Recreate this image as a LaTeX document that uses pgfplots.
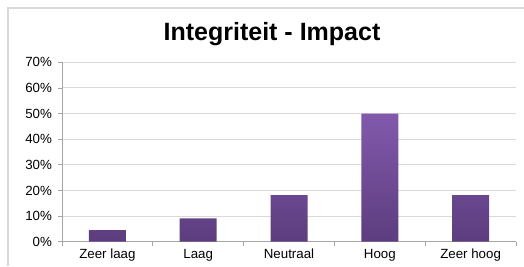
\documentclass[border=0pt]{standalone}
\usepackage{pgfplots}
\pgfplotsset{compat=1.18}
\usepackage{fontspec}
\setmainfont{Liberation Sans}
\definecolor{bartop}{HTML}{8259AC}
\definecolor{barbot}{HTML}{5C3D7E}
\definecolor{gridc}{HTML}{D9D9D9}
\definecolor{axisc}{HTML}{A6A6A6}
\begin{document}
\begin{tikzpicture}[x=1pt,y=1pt]
\useasboundingbox (0,0) rectangle (524,266);
\fill[white] (0,0) rectangle (524,266);
\draw[gridc, line width=1.2pt] (8,0) -- (8,258) -- (524,258);
\node[anchor=base, font=\bfseries\fontsize{25}{29}\selectfont] at (272,226) {Integriteit - Impact};
\begin{axis}[
  at={(62pt,24.3pt)}, anchor=south west,
  scale only axis, width=454pt, height=179.4pt,
  ymin=0, ymax=70, ytick={0,10,...,70},
  yticklabel={\pgfmathprintnumber{\tick}\%},
  /pgf/number format/assume math mode=true,
  xmin=-0.5, xmax=4.5,
  xtick={0,1,2,3,4},
  xticklabels={Zeer laag,Laag,Neutraal,Hoog,Zeer hoog},
  minor xtick={-0.5,0.5,1.5,2.5,3.5,4.5},
  major x tick style={draw=none},
  tick align=outside,
  major tick length=4pt, minor tick length=4pt,
  tick style={axisc, line width=0.8pt},
  ymajorgrids, grid style={gridc, line width=0.9pt},
  axis x line*=bottom, axis y line*=left,
  axis line style={axisc, line width=0.8pt},
  ticklabel style={font=\fontsize{13.3}{15}\selectfont, text=black},
  yticklabel style={xshift=-2.5pt},
  ybar, bar width=37pt,
]
\addplot[draw=none, top color=bartop, bottom color=barbot, shading=axis]
  coordinates {(0,4.55) (1,9.09) (2,18.18) (3,50) (4,18.18)};
\end{axis}
\end{tikzpicture}
\end{document}
